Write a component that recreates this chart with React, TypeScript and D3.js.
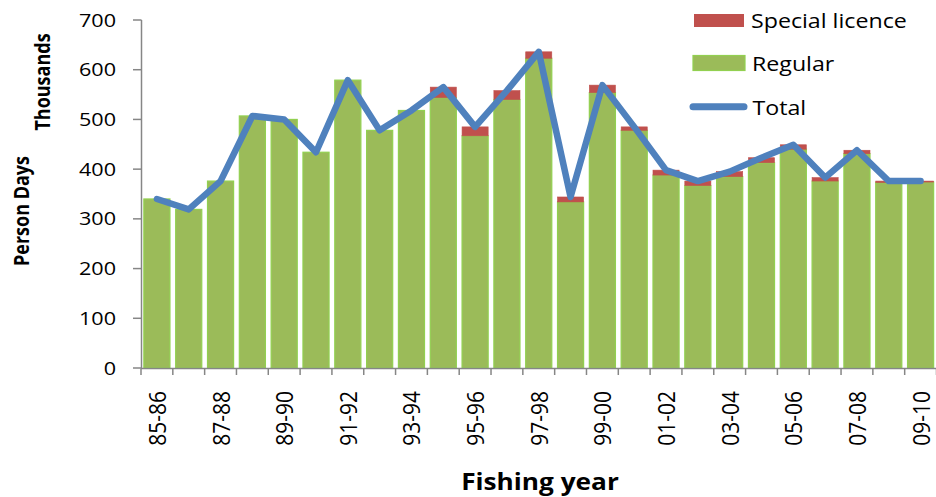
import React from "react";
import * as d3 from "d3";

const years = ["85-86","86-87","87-88","88-89","89-90","90-91","91-92","92-93","93-94","94-95","95-96","96-97","97-98","98-99","99-00","00-01","01-02","02-03","03-04","04-05","05-06","06-07","07-08","08-09","09-10"];
const regular = [340,319,376,507,500,434,579,478,518,544,467,540,623,334,554,478,388,367,385,413,440,376,431,373,374];
const special = [0,0,0,0,0,0,0,0,0,21,18,18,13,10,15,7,10,9,10,10,9,7,7,3,2];
const yTicks = [0,100,200,300,400,500,600,700];

const W = 936, H = 497;
const FONT = "'Open Sans', 'DejaVu Sans', sans-serif";
const AXIS = "#868686";
const GREEN = "#9BBB59", GREEN_STROKE = "#92D050";
const RED = "#C0504D", BLUE = "#4F81BD";

export default function App() {
  const x = d3.scaleBand<string>().domain(years).range([141, 936.5]).paddingInner(0.18).paddingOuter(0.09);
  const y = d3.scaleLinear().domain([0, 700]).range([368, 20]);
  const step = x.step();
  const totals = regular.map((r, i) => r + special[i]);
  const line = d3.line<number>()
    .x((_, i) => (x(years[i]) as number) + x.bandwidth() / 2)
    .y((d) => y(d));
  const bw = x.bandwidth();
  const boundaries = d3.range(years.length + 1).map((i) => 141 + i * step);

  return (
    <svg width={W} height={H} style={{ position: "absolute", left: 0, top: 0, background: "#fff" }} fontFamily={FONT}>
      {/* bars */}
      {years.map((yr, i) => (
        <g key={yr}>
          <rect x={x(yr)} y={y(regular[i])} width={bw} height={y(0) - y(regular[i])} fill={GREEN} stroke={GREEN_STROKE} strokeWidth={1.2} />
          {special[i] > 0 && (
            <rect x={x(yr)} y={y(totals[i])} width={bw} height={y(regular[i]) - y(totals[i])} fill={RED} stroke={RED} strokeWidth={0.6} />
          )}
        </g>
      ))}
      {/* axes */}
      <line x1={141.5} x2={141.5} y1={20} y2={368.5} stroke={AXIS} strokeWidth={1.5} />
      {yTicks.map((t) => (
        <g key={t}>
          <line x1={133} x2={141.5} y1={y(t)} y2={y(t)} stroke={AXIS} strokeWidth={1.5} />
          <text transform={`translate(116,${y(t) + 6.5}) scale(1.2,1)`} textAnchor="end" fontSize={18} fill="#000">{t}</text>
        </g>
      ))}
      <line x1={141} x2={936} y1={368.5} y2={368.5} stroke={AXIS} strokeWidth={1.5} />
      {boundaries.map((b, i) => (
        <line key={i} x1={b} x2={b} y1={368.5} y2={375} stroke={AXIS} strokeWidth={1.5} />
      ))}
      {years.map((yr, i) =>
        i % 2 === 0 ? (
          <text key={yr} transform={`translate(${(x(yr) as number) + bw / 2 + 9},391) scale(1.12,1) rotate(-90)`} textAnchor="end" fontSize={21} fill="#000">{yr}</text>
        ) : null
      )}
      {/* total line */}
      <path d={line(totals) || ""} fill="none" stroke={BLUE} strokeWidth={6.5} strokeLinejoin="round" strokeLinecap="round" />
      {/* axis titles */}
      <text transform={`translate(540,490) scale(1.14,1)`} textAnchor="middle" fontSize={23} fontWeight="bold" fill="#000">Fishing year</text>
      <text transform={`translate(29,211) scale(1.2,1) rotate(-90)`} textAnchor="middle" fontSize={18} fontWeight="bold" fill="#000">Person Days</text>
      <text transform={`translate(50,82) scale(1.2,1) rotate(-90)`} textAnchor="middle" fontSize={18} fontWeight="bold" fill="#000">Thousands</text>
      {/* legend */}
      <rect x={694} y={14} width={50} height={13} fill={RED} />
      <text transform="translate(751,28) scale(1.16,1)" fontSize={20} fill="#000">Special licence</text>
      <rect x={693} y={55.5} width={52} height={15} fill={GREEN} stroke={GREEN_STROKE} strokeWidth={1.2} />
      <text transform="translate(752,70.5) scale(1.16,1)" fontSize={20} fill="#000">Regular</text>
      <line x1={693} x2={744} y1={106.7} y2={106.7} stroke={BLUE} strokeWidth={7} strokeLinecap="round" />
      <text transform="translate(752.5,115) scale(1.16,1)" fontSize={20} fill="#000">Total</text>
    </svg>
  );
}
